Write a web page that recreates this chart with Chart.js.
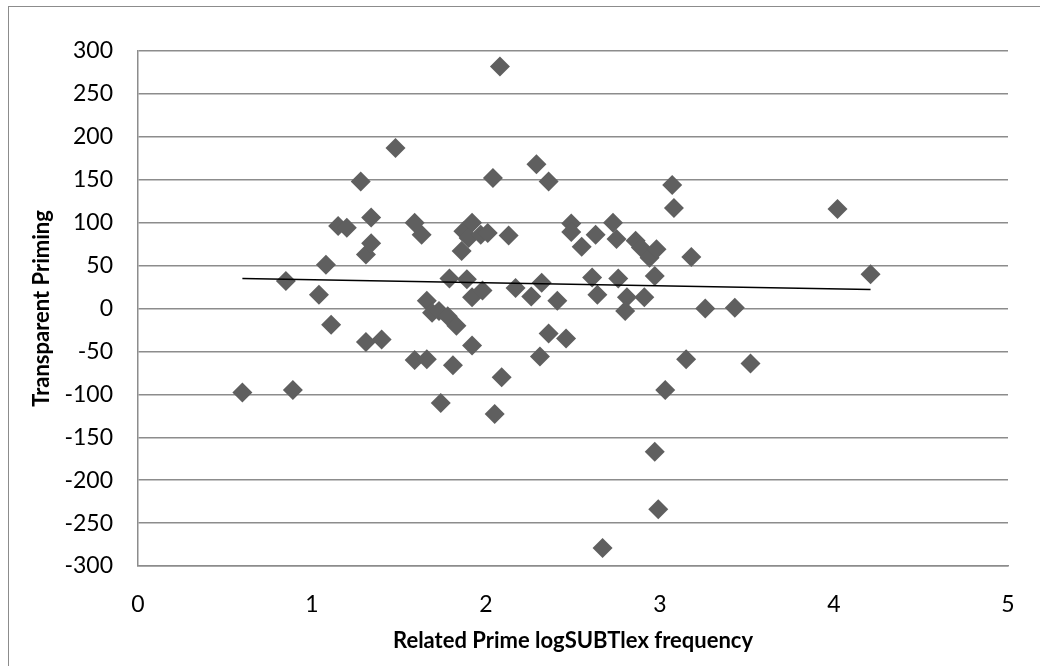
<!DOCTYPE html>
<html>
<head>
<meta charset="utf-8">
<script src="https://cdn.jsdelivr.net/npm/chart.js@4"></script>
<style>
  html, body { margin: 0; padding: 0; background: #fff; }
  #wrap { position: relative; width: 1040px; height: 666px; overflow: hidden; }
  #frame { position: absolute; left: 8px; top: 6px; width: 1100px; height: 700px; border: 1.5px solid #8c8c8c; box-sizing: border-box; }
  canvas { position: absolute; left: 0; top: 0; }
</style>
</head>
<body>
<div id="wrap">
  <div id="frame"></div>
  <canvas id="chart" width="1040" height="666"></canvas>
</div>
<script>
// prime frequency (x) and transparent priming (y)
const primeFreq = [
  0.60, 0.85, 0.89, 1.04, 1.08, 1.11, 1.15, 1.20, 1.28, 1.31,
  1.34, 1.34, 1.31, 1.40, 1.48, 1.59, 1.63, 1.59, 1.66, 1.66,
  1.69, 1.73, 1.78, 1.83, 1.74, 1.79, 1.81, 1.86, 1.87, 1.92,
  1.90, 1.97, 2.01, 1.89, 1.92, 1.98, 1.92, 2.08, 2.04, 2.05,
  2.09, 2.13, 2.17, 2.26, 2.29, 2.32, 2.36, 2.31, 2.36, 2.46,
  2.41, 2.49, 2.49, 2.55, 2.63, 2.61, 2.64, 2.67, 2.73, 2.75,
  2.76, 2.81, 2.80, 2.86, 2.89, 2.94, 2.98, 2.91, 2.97, 2.97,
  2.99, 3.03, 3.07, 3.08, 3.15, 3.18, 3.26, 3.43, 3.52, 4.02,
  4.21
];
const priming = [
  -98, 32, -95, 16, 51, -19, 96, 94, 148, 63,
  76, 106, -39, -36, 187, 100, 86, -60, -59, 9,
  -5, -3, -9, -20, -110, 35, -66, 67, 90, 100,
  82, 86, 88, 34, 13, 21, -43, 282, 152, -123,
  -80, 85, 24, 14, 168, 30, 148, -56, -29, -35,
  9, 99, 89, 72, 86, 36, 16, -279, 100, 81,
  35, 13, -3, 79, 71, 59, 69, 13, 38, -167,
  -234, -95, 144, 117, -59, 60, 0, 1, -64, 116,
  40
];
// linear trendline end points
const trendX = [0.60, 4.21];
const trendY = [35, 22];

const FONT = "Lato, 'Open Sans', sans-serif";

const points = primeFreq.map((x, i) => ({ x, y: priming[i] }));
const trend = trendX.map((x, i) => ({ x, y: trendY[i] }));

new Chart(document.getElementById('chart'), {
  type: 'scatter',
  data: {
    datasets: [
      {
        label: 'Linear trend',
        data: trend,
        showLine: true,
        borderColor: '#000',
        borderWidth: 1.5,
        pointRadius: 0,
        fill: false,
      },
      {
        label: 'Transparent Priming',
        data: points,
        pointStyle: 'rectRot',
        pointRadius: 10,
        backgroundColor: '#5f5f5f',
        borderColor: '#5f5f5f',
        borderWidth: 0,
      },
    ],
  },
  options: {
    responsive: false,
    animation: false,
    events: [],
    layout: { padding: { top: 51, right: 32, bottom: 0, left: 0 } },
    plugins: { legend: { display: false }, tooltip: { enabled: false } },
    scales: {
      x: {
        type: 'linear',
        min: 0,
        max: 5,
        ticks: { stepSize: 1, color: '#000', padding: 25, font: { family: FONT, size: 23 } },
        grid: { display: false, drawTicks: false },
        border: { display: true, color: '#8c8c8c', width: 1.5 },
        title: {
          display: true,
          text: 'Related Prime logSUBTlex frequency',
          color: '#000',
          font: { family: FONT, size: 22, weight: 'bold' },
          padding: { top: 0, bottom: 12 },
        },
        afterFit(scale) { scale.height = 100; },
      },
      y: {
        type: 'linear',
        min: -300,
        max: 300,
        ticks: { stepSize: 50, color: '#000', padding: 25, font: { family: FONT, size: 23 } },
        grid: { color: '#8c8c8c', lineWidth: 1.5, drawTicks: false },
        border: { display: true, color: '#8c8c8c', width: 1.5 },
        title: {
          display: true,
          text: 'Transparent Priming',
          color: '#000',
          font: { family: FONT, size: 22, weight: 'bold' },
          padding: { top: 29, bottom: 0 },
        },
        afterFit(scale) { scale.width = 138; },
      },
    },
  },
});
</script>
</body>
</html>
